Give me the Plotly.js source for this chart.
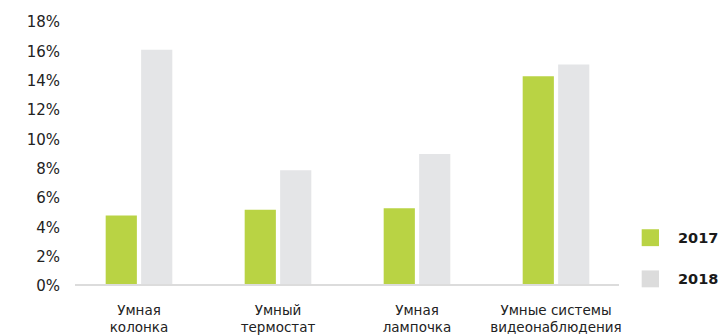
<!DOCTYPE html>
<html>
<head>
<meta charset="utf-8">
<script src="https://cdn.plot.ly/plotly-3.0.1.min.js"></script>
<style>
  html, body { margin: 0; padding: 0; background: #ffffff; }
  #chart { width: 724px; height: 336px; }
</style>
</head>
<body>
<div id="chart"></div>
<script>
// Share of households owning each smart-home device, 2017 vs 2018
const categories = [
  'Умная<br>колонка',
  'Умный<br>термостат',
  'Умная<br>лампочка',
  'Умные системы<br>видеонаблюдения'
];
const seriesNames = ['2017', '2018'];
const values2017 = [4.8, 5.2, 5.3, 14.3];
const values2018 = [16.1, 7.9, 9.0, 15.1];
const yTickValues = [0, 2, 4, 6, 8, 10, 12, 14, 16, 18];
const yTickLabels = ['0%', '2%', '4%', '6%', '8%', '10%', '12%', '14%', '16%', '18%'];

const colors = ['#b9d344', '#e4e5e7'];
const legendColors = ['#b9d344', '#dcdcdc'];
const FONT = 'DejaVu Sans, sans-serif';

const traces = [values2017, values2018].map((vals, i) => ({
  type: 'bar',
  name: seriesNames[i],
  x: categories,
  y: vals,
  marker: { color: colors[i] },
  hoverinfo: 'skip',
  showlegend: false
}));

// Custom legend: large squares with bold year labels on the right
const legendY = [0.183, 0.027];
const shapes = [
  {
    type: 'line', xref: 'paper', yref: 'y',
    x0: 0, x1: 1, y0: 0, y1: 0,
    line: { color: '#dcdcdc', width: 4 },
    layer: 'above'
  }
];
const annotations = [];
seriesNames.forEach((name, i) => {
  shapes.push({
    type: 'rect', xref: 'paper', yref: 'paper',
    x0: 1.0417, x1: 1.0735,
    y0: legendY[i] - 0.032, y1: legendY[i] + 0.032,
    fillcolor: legendColors[i], line: { width: 0 }
  });
  annotations.push({
    xref: 'paper', yref: 'paper',
    x: 1.105, y: legendY[i],
    xanchor: 'left', yanchor: 'middle',
    text: '<b>' + name + '</b>', showarrow: false,
    font: { family: FONT, size: 14.5, color: '#1a1a1a' }
  });
});

const layout = {
  width: 724,
  height: 336,
  margin: { l: 75, r: 105, t: 22, b: 50, pad: 0 },
  paper_bgcolor: '#ffffff',
  plot_bgcolor: '#ffffff',
  barmode: 'group',
  bargap: 0.49,
  bargroupgap: 0.12,
  font: { family: FONT, color: '#222222' },
  xaxis: {
    type: 'category',
    range: [-0.4604, 3.4532],
    showgrid: false,
    zeroline: false,
    showline: false,
    ticks: '',
    ticklabelstandoff: 14,
    tickfont: { family: FONT, size: 13.5, color: '#222222' },
    fixedrange: true
  },
  yaxis: {
    range: [0, 18],
    tickvals: yTickValues,
    ticktext: yTickLabels,
    showgrid: false,
    zeroline: false,
    showline: false,
    ticks: '',
    ticklabelstandoff: 14,
    tickfont: { family: FONT, size: 15, color: '#222222' },
    fixedrange: true
  },
  shapes: shapes,
  annotations: annotations
};

Plotly.newPlot('chart', traces, layout, { displayModeBar: false, staticPlot: true });
</script>
</body>
</html>
